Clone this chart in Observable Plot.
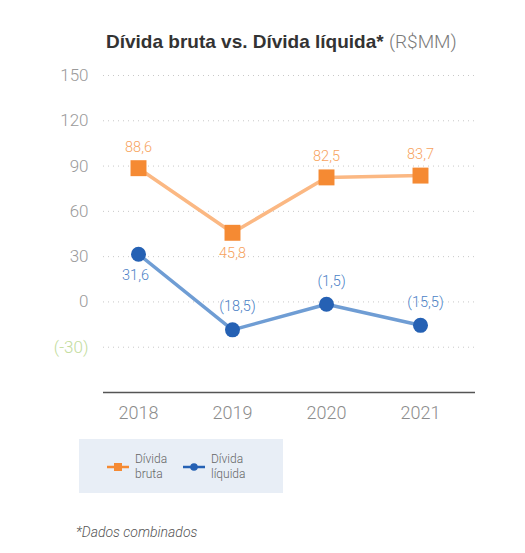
<!DOCTYPE html>
<html>
<head>
<meta charset="utf-8">
<script src="https://cdn.jsdelivr.net/npm/d3@7"></script>
<script src="https://cdn.jsdelivr.net/npm/@observablehq/plot@0.6"></script>
<style>
  html, body { margin: 0; padding: 0; background: #fff; }
  #wrap { position: relative; width: 525px; height: 553px; font-family: "Helvetica Neue", Roboto, "Liberation Sans", Arial, sans-serif; overflow: hidden; }
  #title { position: absolute; left: 106px; top: 30px; white-space: nowrap; font-family: "Liberation Sans", Arial, sans-serif; font-size: 19px; color: #333; }
  #title b { font-weight: 700; }
  #title span { color: #7a7a7a; font-family: "Helvetica Neue", Roboto, sans-serif; font-weight: 300; }
  #chart { position: absolute; left: 0; top: 60px; }
  #legend { position: absolute; left: 79px; top: 439px; width: 204px; height: 54px; background: #e8eef6; }
  .item { position: absolute; top: 13px; display: flex; align-items: center; font-size: 12px; line-height: 15px; color: #666; font-weight: 300; }
  .item svg { margin-right: 6px; }
  #caption { position: absolute; left: 76px; top: 524px; font-size: 14px; font-style: italic; color: #555; font-weight: 300; }
</style>
</head>
<body>
<div id="wrap">
  <div id="title"></div>
  <div id="chart"></div>
  <div id="legend"></div>
  <div id="caption"></div>
</div>
<script>
const years = ["2018", "2019", "2020", "2021"];
const grossDebt = [88.6, 45.8, 82.5, 83.7];
const netDebt = [31.6, -18.5, -1.5, -15.5];
const yTicks = [150, 120, 90, 60, 30, 0];
const yNegTicks = [-30];
const seriesNames = ["Dívida bruta", "Dívida líquida"];
const titleMain = "Dívida bruta vs. Dívida líquida*";
const titleUnit = "(R$MM)";
const captionText = "*Dados combinados";

const orangeLine = "#fbb883", orangeDot = "#f58a33", orangeText = "#f7a35e";
const blueLine = "#6f9dd4", blueDot = "#2561b4", blueText = "#4b7fc6";

const gross = years.map((year, i) => ({year, value: grossDebt[i]}));
const net = years.map((year, i) => ({year, value: netDebt[i]}));
const fmt = v => {
  const s = Math.abs(v).toFixed(1).replace(".", ",");
  return v < 0 ? `(${s})` : s;
};

const chart = Plot.plot({
  width: 525,
  height: 370,
  marginLeft: 103,
  marginRight: 50,
  marginTop: 15,
  marginBottom: 38,
  style: {fontFamily: "'Helvetica Neue', Roboto, 'Liberation Sans', Arial, sans-serif", fontWeight: 300, background: "transparent"},
  x: {type: "point", domain: years, range: [137, 420], padding: 0},
  y: {domain: [-60, 150]},
  marks: [
    Plot.ruleY(yTicks.concat(yNegTicks), {stroke: "#c8c8c8", strokeDasharray: "1,4", strokeWidth: 1}),
    Plot.ruleY([-60], {stroke: "#555", strokeWidth: 1.5}),
    Plot.axisY({ticks: yTicks, tickSize: 0, tickPadding: 15, fontSize: 17, fill: "#9a9a9a", tickFormat: d => d, label: null}),
    Plot.axisY({ticks: yNegTicks, tickSize: 0, tickPadding: 15, fontSize: 17, fill: "#c2dc9c", tickFormat: d => `(${d})`, label: null}),
    Plot.axisX({tickSize: 0, tickPadding: 14, fontSize: 18, fill: "#8c8c8c", label: null}),
    Plot.lineY(gross, {x: "year", y: "value", stroke: orangeLine, strokeWidth: 3.5}),
    Plot.lineY(net, {x: "year", y: "value", stroke: blueLine, strokeWidth: 3.5}),
    Plot.dot(gross, {x: "year", y: "value", symbol: "square", r: 9, fill: orangeDot}),
    Plot.dot(net, {x: "year", y: "value", r: 7.5, fill: blueDot}),
    Plot.text(gross.filter(d => d.value >= 60), {x: "year", y: "value", text: d => fmt(d.value), dy: -21, fontSize: 14.5, fill: orangeText}),
    Plot.text(gross.filter(d => d.value < 60), {x: "year", y: "value", text: d => fmt(d.value), dy: 21, fontSize: 14.5, fill: orangeText}),
    Plot.text(net.filter(d => d.value > 0), {x: "year", y: "value", text: d => fmt(d.value), dy: 21, dx: -3, fontSize: 14.5, fill: blueText}),
    Plot.text(net.filter(d => d.value <= 0), {x: "year", y: "value", text: d => fmt(d.value), dy: -23, dx: 5, fontSize: 14.5, fill: blueText})
  ]
});
document.getElementById("chart").appendChild(chart);

document.getElementById("title").innerHTML = `<b>${titleMain}</b> <span>${titleUnit}</span>`;
document.getElementById("caption").textContent = captionText;

const legend = document.getElementById("legend");
const swatches = [
  {name: seriesNames[0], line: orangeDot, marker: `<rect x="7" y="3" width="8" height="8" fill="${orangeDot}"/>`, left: 28},
  {name: seriesNames[1], line: blueDot, marker: `<circle cx="11" cy="7" r="3.8" fill="${blueDot}"/>`, left: 104}
];
swatches.forEach(s => {
  const parts = s.name.split(" ");
  const div = document.createElement("div");
  div.className = "item";
  div.style.left = s.left + "px";
  div.innerHTML = `<svg width="22" height="14"><line x1="0" x2="22" y1="7" y2="7" stroke="${s.line}" stroke-width="2.5"/>${s.marker}</svg><div>${parts[0]}<br>${parts[1]}</div>`;
  legend.appendChild(div);
});
</script>
</body>
</html>
